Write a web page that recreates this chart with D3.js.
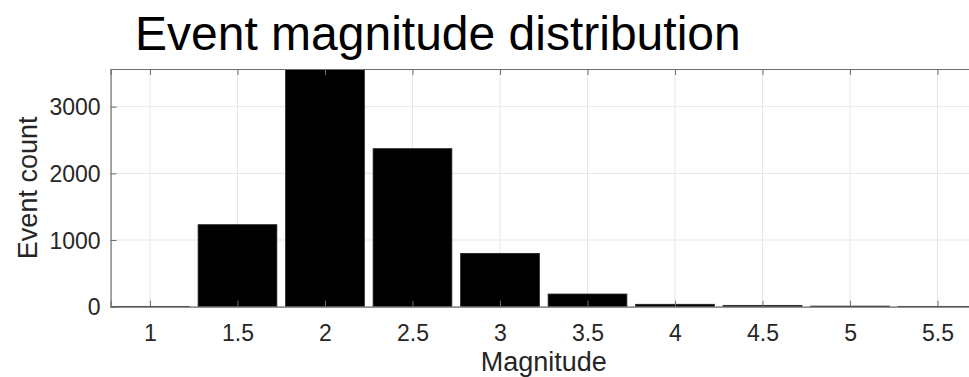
<!DOCTYPE html>
<html>
<head>
<meta charset="utf-8">
<script src="https://cdn.jsdelivr.net/npm/d3@7"></script>
<style>
  html, body { margin: 0; padding: 0; background: #fff; }
  svg { display: block; font-family: "Liberation Sans", Arial, Helvetica, sans-serif; }
</style>
</head>
<body>
<svg id="chart" width="969" height="377"></svg>
<script>
// Magnitude bins (bin centres) and event counts per bin
const magnitudes = [1, 1.5, 2, 2.5, 3, 3.5, 4, 4.5, 5, 5.5];
const counts = [5, 1230, 3565, 2370, 800, 190, 36, 20, 9, 5];
const xTicks = [1, 1.5, 2, 2.5, 3, 3.5, 4, 4.5, 5, 5.5];
const yTicks = [0, 1000, 2000, 3000];
const titleText = "Event magnitude distribution";
const xLabel = "Magnitude";
const yLabel = "Event count";

const svg = d3.select("#chart");
const plotLeft = 110.6, plotRight = 976.9, plotTop = 69, plotBottom = 306.7;
const barWidth = 0.45;

const x = d3.scaleLinear().domain([0.775, 5.725]).range([plotLeft, plotRight]);
const y = d3.scaleLinear().domain([0, d3.max(counts)]).range([plotBottom, plotTop]);

svg.append("defs").append("clipPath").attr("id", "plotClip")
  .append("rect").attr("x", plotLeft).attr("y", plotTop)
  .attr("width", plotRight - plotLeft).attr("height", plotBottom - plotTop);

// grid
const grid = svg.append("g");
grid.selectAll("line.gx").data(xTicks).join("line")
  .attr("x1", d => x(d)).attr("x2", d => x(d))
  .attr("y1", plotTop).attr("y2", plotBottom)
  .attr("stroke", "#e6e6e6").attr("stroke-width", 1);
grid.selectAll("line.gy").data(yTicks).join("line")
  .attr("x1", plotLeft).attr("x2", plotRight)
  .attr("y1", d => y(d)).attr("y2", d => y(d))
  .attr("stroke", "#e6e6e6").attr("stroke-width", 1);

// bars
svg.append("g").attr("clip-path", "url(#plotClip)")
  .selectAll("rect").data(magnitudes).join("rect")
  .attr("x", (d) => x(d - barWidth / 2))
  .attr("width", x(barWidth) - x(0))
  .attr("y", (d, i) => y(counts[i]))
  .attr("height", (d, i) => plotBottom - y(counts[i]))
  .attr("fill", "#000")
  .attr("stroke", "#222").attr("stroke-width", 0.8);

// axes
const xAxis = d3.axisBottom(x).tickValues(xTicks).tickSize(-6).tickPadding(18)
  .tickFormat(d3.format("~g"));
const gx = svg.append("g").attr("transform", `translate(0,${plotBottom})`).call(xAxis);
const xTopAxis = d3.axisTop(x).tickValues(xTicks).tickSize(-6).tickFormat("");
const gxt = svg.append("g").attr("transform", `translate(0,${plotTop})`).call(xTopAxis);
const yAxis = d3.axisLeft(y).tickValues(yTicks).tickSize(-6).tickPadding(10)
  .tickFormat(d3.format("d"));
const gy = svg.append("g").attr("transform", `translate(${plotLeft},0)`).call(yAxis);

[gx, gxt, gy].forEach(g => {
  g.select(".domain").attr("stroke", "#6e6e6e").attr("stroke-width", 1.2);
  g.selectAll(".tick line").attr("stroke", "#6e6e6e").attr("stroke-width", 1);
  g.selectAll(".tick text").attr("fill", "#262626").attr("font-size", 23)
    .attr("font-family", "Liberation Sans, Arial, sans-serif");
});
gy.selectAll(".tick text").attr("dy", "0.36em");

// labels
svg.append("text").attr("x", 135).attr("y", 50)
  .attr("font-size", 48).attr("fill", "#000").text(titleText);
svg.append("text").attr("x", (plotLeft + plotRight) / 2).attr("y", 371)
  .attr("text-anchor", "middle").attr("font-size", 27).attr("fill", "#262626")
  .text(xLabel);
svg.append("text")
  .attr("transform", `translate(37,${(plotTop + plotBottom) / 2}) rotate(-90)`)
  .attr("text-anchor", "middle").attr("font-size", 27).attr("fill", "#262626")
  .text(yLabel);
</script>
</body>
</html>
